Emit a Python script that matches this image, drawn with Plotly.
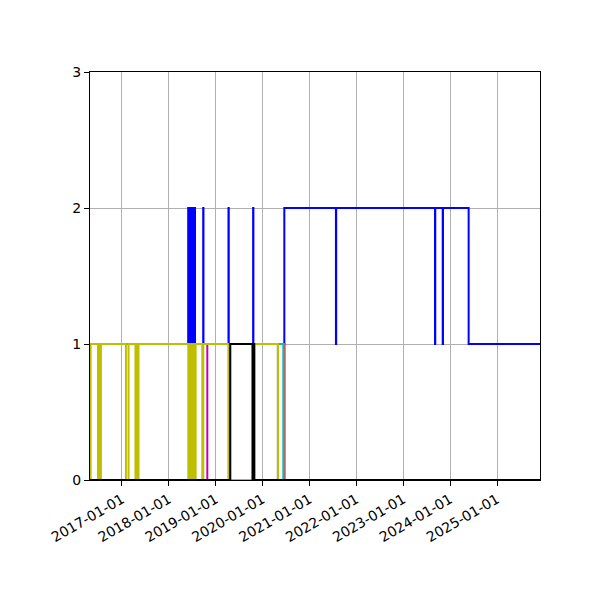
import plotly.graph_objects as go

# ---- data (step series) ----
blue_dates = ["2016-04-27", "2018-06-01", "2018-06-06", "2018-06-11", "2018-06-16", "2018-06-21",
              "2018-06-26", "2018-07-01", "2018-07-06", "2018-07-11", "2018-07-16", "2018-07-20",
              "2018-07-24", "2018-09-26", "2018-09-28", "2019-04-11", "2019-04-13", "2019-10-20",
              "2019-10-22", "2020-06-19", "2021-07-26", "2021-07-28", "2023-09-06", "2023-09-08",
              "2023-11-05", "2023-11-07", "2024-05-25", "2025-12-02"]
blue_values = [1, 2, 1, 2, 1, 2, 1, 2, 1, 2, 1, 2, 1, 2, 1, 2, 1, 2, 1, 2, 1, 2, 1, 2, 1, 2, 1, 1]

red_dates = ["2016-04-27", "2020-06-22", "2025-12-02"]
red_values = [1, 0, 0]

cyan_dates = ["2016-04-27", "2020-06-11", "2025-12-02"]
cyan_values = [1, 0, 0]

gray_dates = ["2016-04-27", "2018-09-21", "2020-04-29", "2025-12-02"]
gray_values = [0, 1, 0, 0]

magenta_dates = ["2016-04-27", "2018-10-28", "2019-04-21", "2025-12-02"]
magenta_values = [0, 1, 0, 0]

yellow_dates = ["2016-04-27", "2016-05-02", "2016-06-28", "2016-07-06", "2016-07-13", "2016-07-21",
                "2017-02-01", "2017-02-21", "2017-04-16", "2017-04-26", "2017-05-02", "2017-05-10",
                "2018-06-02", "2018-06-08", "2018-06-14", "2018-06-20", "2018-06-26", "2018-07-02",
                "2018-07-08", "2018-07-14", "2018-07-20", "2018-07-29", "2018-09-22", "2018-09-27",
                "2019-04-10", "2019-10-29", "2020-05-01", "2025-12-02"]
yellow_values = [0, 1, 0, 1, 0, 1, 0, 1, 0, 1, 0, 1, 0, 1, 0, 1, 0, 1, 0, 1, 0, 1, 0, 1, 0, 1, 0, 0]

black_dates = ["2016-04-27", "2019-04-25", "2019-10-15", "2019-10-22", "2019-10-29", "2025-12-02"]
black_values = [0, 1, 0, 1, 0, 0]

series = [
    ("blue", blue_dates, blue_values, "#0000ff"),
    ("red", red_dates, red_values, "#ff4040"),
    ("cyan", cyan_dates, cyan_values, "#00bfbf"),
    ("gray", gray_dates, gray_values, "#8c8c8c"),
    ("magenta", magenta_dates, magenta_values, "#bf00bf"),
    ("yellow", yellow_dates, yellow_values, "#bfbf00"),
    ("black", black_dates, black_values, "#000000"),
]

fig = go.Figure()
for name, d, v, c in series:
    fig.add_trace(go.Scatter(x=d, y=v, mode="lines", name=name,
                             line=dict(color=c, width=2, shape="hv")))

axis_common = dict(
    showline=True, linecolor="black", linewidth=1, mirror=True,
    ticks="outside", ticklen=5, tickwidth=1, tickcolor="black",
    showgrid=True, gridcolor="#b0b0b0", gridwidth=1,
    zeroline=False, tickfont=dict(family="DejaVu Sans", size=14, color="black"),
)

fig.update_layout(
    width=600, height=600,
    margin=dict(l=82, r=68, t=64, b=128),
    paper_bgcolor="white", plot_bgcolor="white",
    showlegend=False,
    xaxis=dict(range=["2016-04-27", "2025-12-02"], tickformat="%Y-%m-%d",
               tick0="2017-01-01", dtick="M12", tickangle=-30, **axis_common),
    yaxis=dict(range=[0, 3], tickvals=[0, 1, 2, 3], **axis_common),
)

fig.write_html("out.html")
